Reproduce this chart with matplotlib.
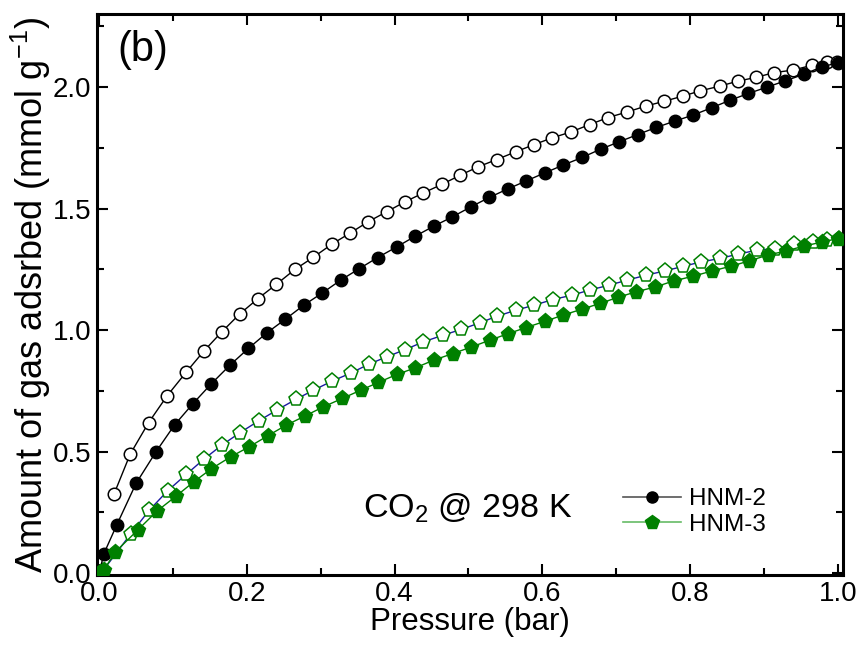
import matplotlib
matplotlib.use("Agg")
import matplotlib.pyplot as plt
from matplotlib.ticker import MultipleLocator
from matplotlib.lines import Line2D

plt.rcParams['font.family'] = ['Liberation Sans', 'DejaVu Sans']
plt.rcParams['mathtext.fontset'] = 'custom'
plt.rcParams['mathtext.rm'] = 'Liberation Sans'
plt.rcParams['mathtext.it'] = 'Liberation Sans:italic'

# HNM-2 adsorption (filled circles)
hnm2_ads_p = [0.001, 0.006, 0.024, 0.050, 0.077, 0.102, 0.127, 0.152, 0.177, 0.202,
              0.227, 0.252, 0.277, 0.302, 0.327, 0.352, 0.377, 0.403, 0.428, 0.453,
              0.478, 0.503, 0.528, 0.553, 0.578, 0.603, 0.628, 0.654, 0.679, 0.704,
              0.729, 0.754, 0.779, 0.804, 0.829, 0.854, 0.879, 0.904, 0.929, 0.954,
              0.979, 1.000]
hnm2_ads_q = [0.010, 0.078, 0.200, 0.370, 0.500, 0.610, 0.698, 0.780, 0.856, 0.925,
              0.989, 1.045, 1.103, 1.153, 1.206, 1.253, 1.299, 1.343, 1.387, 1.428,
              1.466, 1.507, 1.546, 1.581, 1.614, 1.647, 1.679, 1.711, 1.745, 1.775,
              1.805, 1.834, 1.860, 1.885, 1.915, 1.946, 1.974, 2.000, 2.026, 2.053,
              2.084, 2.100]
# HNM-2 desorption (open circles)
hnm2_des_p = [0.020, 0.042, 0.067, 0.092, 0.118, 0.142, 0.166, 0.190, 0.215, 0.240,
              0.265, 0.290, 0.315, 0.340, 0.364, 0.389, 0.414, 0.439, 0.464, 0.489,
              0.513, 0.538, 0.564, 0.589, 0.613, 0.639, 0.664, 0.689, 0.715, 0.740,
              0.765, 0.790, 0.814, 0.840, 0.865, 0.889, 0.914, 0.939, 0.965, 0.985,
              0.999]
hnm2_des_q = [0.325, 0.490, 0.620, 0.730, 0.828, 0.915, 0.993, 1.066, 1.130, 1.189,
              1.250, 1.300, 1.354, 1.400, 1.446, 1.487, 1.528, 1.565, 1.600, 1.638,
              1.672, 1.702, 1.734, 1.764, 1.791, 1.816, 1.846, 1.875, 1.898, 1.922,
              1.942, 1.963, 1.985, 2.004, 2.025, 2.040, 2.060, 2.070, 2.090, 2.104,
              2.104]
# HNM-3 adsorption (filled pentagons)
hnm3_ads_p = [0.001, 0.006, 0.022, 0.052, 0.078, 0.104, 0.128, 0.152, 0.178, 0.203,
              0.228, 0.253, 0.278, 0.303, 0.329, 0.354, 0.378, 0.403, 0.428, 0.453,
              0.479, 0.504, 0.529, 0.553, 0.578, 0.604, 0.628, 0.653, 0.678, 0.703,
              0.727, 0.753, 0.778, 0.804, 0.830, 0.855, 0.880, 0.905, 0.930, 0.954,
              0.979, 1.000]
hnm3_ads_q = [0.005, 0.012, 0.088, 0.177, 0.255, 0.317, 0.376, 0.430, 0.479, 0.520,
              0.565, 0.609, 0.646, 0.684, 0.719, 0.753, 0.785, 0.818, 0.845, 0.877,
              0.904, 0.931, 0.959, 0.985, 1.011, 1.037, 1.062, 1.086, 1.110, 1.136,
              1.158, 1.178, 1.203, 1.222, 1.244, 1.263, 1.285, 1.309, 1.326, 1.346,
              1.363, 1.377]
# HNM-3 desorption (open pentagons)
hnm3_des_p = [0.005, 0.043, 0.068, 0.093, 0.118, 0.142, 0.166, 0.191, 0.216, 0.241,
              0.266, 0.290, 0.315, 0.341, 0.365, 0.389, 0.414, 0.439, 0.465, 0.490,
              0.515, 0.539, 0.564, 0.589, 0.614, 0.640, 0.664, 0.690, 0.715, 0.740,
              0.766, 0.791, 0.815, 0.840, 0.865, 0.890, 0.915, 0.941, 0.966, 0.985,
              1.001]
hnm3_des_q = [0.010, 0.163, 0.260, 0.340, 0.407, 0.470, 0.527, 0.579, 0.627, 0.672,
              0.715, 0.753, 0.790, 0.824, 0.860, 0.890, 0.920, 0.952, 0.979, 1.003,
              1.030, 1.058, 1.082, 1.103, 1.126, 1.144, 1.165, 1.185, 1.206, 1.226,
              1.244, 1.263, 1.281, 1.295, 1.313, 1.329, 1.336, 1.354, 1.363, 1.373,
              1.377]

labels = ['HNM-2', 'HNM-3']
green = '#008000'

fig = plt.figure(figsize=(8.58, 6.47), dpi=100)
ax = fig.add_axes([0.113, 0.111, 0.8695, 0.867])

ax.plot(hnm2_des_p, hnm2_des_q, '-', color='black', lw=1.0, marker='o', ms=9,
        mfc='white', mec='black', mew=1.1, zorder=3)
ax.plot(hnm2_ads_p, hnm2_ads_q, '-', color='black', lw=1.0, marker='o', ms=9,
        mfc='black', mec='black', zorder=4)
ax.plot(hnm3_des_p, hnm3_des_q, '-', color='#1a1aa0', lw=1.0, marker='p', ms=11,
        mfc='white', mec=green, mew=1.1, zorder=3)
ax.plot(hnm3_ads_p, hnm3_ads_q, '-', color=green, lw=1.0, marker='p', ms=11,
        mfc=green, mec=green, zorder=4)

ax.set_xlim(-0.003, 1.007)
ax.set_ylim(-0.008, 2.30)
ax.xaxis.set_major_locator(MultipleLocator(0.2))
ax.xaxis.set_minor_locator(MultipleLocator(0.1))
ax.yaxis.set_major_locator(MultipleLocator(0.5))
ax.yaxis.set_minor_locator(MultipleLocator(0.25))
ax.tick_params(which='both', direction='in', top=True, right=True, width=1.5,
               labelsize=20, pad=4)
ax.tick_params(which='major', length=8)
ax.tick_params(which='minor', length=5)
for s in ax.spines.values():
    s.set_linewidth(2.2)

ax.set_xlabel('Pressure (bar)', fontsize=22.5, labelpad=0)
ax.set_ylabel('Amount of gas adsrbed (mmol g$^{-1}$)', fontsize=26, labelpad=0)

ax.text(0.027, 0.972, '(b)', transform=ax.transAxes, fontsize=30, va='top', ha='left')
ax.text(0.357, 0.12, 'CO$_2$ @ 298 K', transform=ax.transAxes, fontsize=24.5,
        va='center', ha='left')

handles = [Line2D([], [], color='#555555', lw=1.2, marker='o', ms=8, mfc='black', mec='black'),
           Line2D([], [], color='#66bb66', lw=1.2, marker='p', ms=10, mfc=green, mec=green)]
ax.legend(handles, labels, loc='lower left', bbox_to_anchor=(0.692, 0.053), frameon=False,
          fontsize=17.5, handlelength=2.4, handletextpad=0.3, labelspacing=0.15,
          borderaxespad=0)

fig.savefig('out.png', dpi=100)
